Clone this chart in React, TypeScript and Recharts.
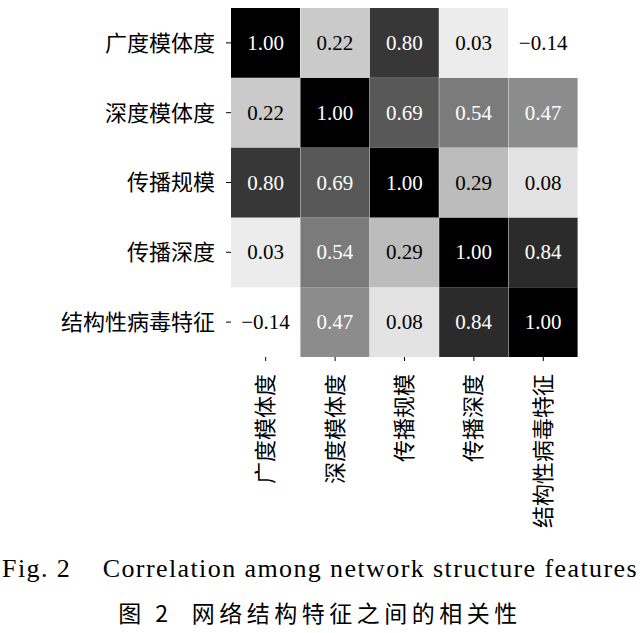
import React from 'react';
import { BarChart, Bar, XAxis, YAxis, Cell, LabelList } from 'recharts';

const FEATURES = ['广度模体度', '深度模体度', '传播规模', '传播深度', '结构性病毒特征'];

// correlation matrix, row by row (top to bottom)
const ROW_0 = [1.0, 0.22, 0.8, 0.03, -0.14];
const ROW_1 = [0.22, 1.0, 0.69, 0.54, 0.47];
const ROW_2 = [0.8, 0.69, 1.0, 0.29, 0.08];
const ROW_3 = [0.03, 0.54, 0.29, 1.0, 0.84];
const ROW_4 = [-0.14, 0.47, 0.08, 0.84, 1.0];
const MATRIX = [ROW_0, ROW_1, ROW_2, ROW_3, ROW_4];

const Y_TICKS = [0.5, 1.5, 2.5, 3.5, 4.5];

// matplotlib "Greys"
const GREYS = [255, 240, 217, 189, 150, 115, 82, 37, 0];
const VMIN = Math.min(...MATRIX.flat());
const VMAX = Math.max(...MATRIX.flat());

const normT = (v: number) => (v - VMIN) / (VMAX - VMIN);
const greyOf = (v: number) => {
  const t = normT(v) * (GREYS.length - 1);
  const i = Math.min(Math.floor(t), GREYS.length - 2);
  const g = Math.round(GREYS[i] + (GREYS[i + 1] - GREYS[i]) * (t - i));
  return `rgb(${g},${g},${g})`;
};
const fmt = (v: number) => (v < 0 ? '\u2212' + Math.abs(v).toFixed(2) : v.toFixed(2));

// one stacked segment per row; s0 is the bottom row
const N = FEATURES.length;
const data = FEATURES.map((name) => {
  const row: Record<string, any> = { name };
  for (let k = 0; k < N; k++) row[`s${k}`] = 1;
  return row;
});

const SERIF = "'Liberation Serif', 'Noto Sans CJK SC', serif";

const XTick = (props: any) => {
  const { x, y, payload } = props;
  const ty = y + 11;
  return (
    <text
      x={x}
      y={ty}
      transform={`rotate(-90, ${x}, ${ty})`}
      textAnchor="end"
      dominantBaseline="central"
      fontSize={22}
      fontFamily={SERIF}
      fill="#000"
    >
      {payload.value}
    </text>
  );
};

const cellLabel = (rowIdx: number) => (props: any) => {
  const { x, y, width, height, index } = props;
  const v = MATRIX[rowIdx][index];
  return (
    <text
      x={x + width / 2}
      y={y + height / 2}
      textAnchor="middle"
      dominantBaseline="central"
      fontSize={21}
      fontFamily={SERIF}
      fill={normT(v) > 0.45 ? '#fff' : '#000'}
    >
      {fmt(v)}
    </text>
  );
};

export default function App() {
  const stacks = Array.from({ length: N }, (_, k) => N - 1 - k);
  return (
    <div style={{ position: 'absolute', left: 0, top: 0, width: 640, height: 633, background: '#fff' }}>
      <BarChart
        width={640}
        height={540}
        data={data}
        margin={{ top: 8, right: 62, left: 0, bottom: 0 }}
        barCategoryGap={0}
      >
        <XAxis
          dataKey="name"
          height={183}
          axisLine={false}
          tickLine={{ stroke: '#000' }}
          tickSize={4}
          interval={0}
          tick={<XTick />}
        />
        <YAxis
          type="number"
          domain={[0, N]}
          ticks={Y_TICKS}
          width={231}
          axisLine={false}
          tickLine={{ stroke: '#000' }}
          tickSize={5}
          tickMargin={11}
          tickFormatter={(v: number) => FEATURES[N - 1 - Math.floor(v)]}
          tick={{ fontSize: 22, fontFamily: SERIF, fill: '#000' }}
        />
        {stacks.map((rowIdx, k) => (
          <Bar key={k} dataKey={`s${k}`} stackId="m" isAnimationActive={false}>
            {MATRIX[rowIdx].map((v, j) => (
              <Cell key={j} fill={greyOf(v)} />
            ))}
            <LabelList content={cellLabel(rowIdx)} />
          </Bar>
        ))}
      </BarChart>
      <div
        style={{
          position: 'absolute', left: 0, width: 640, top: 556, textAlign: 'center',
          fontFamily: SERIF, fontSize: 26, lineHeight: '26px', letterSpacing: 1.4, whiteSpace: 'pre',
        }}
      >
        {'Fig. 2    Correlation among network structure features'}
      </div>
      <div
        style={{
          position: 'absolute', left: 0, width: 640, top: 601, textAlign: 'center',
          fontFamily: "'Noto Sans CJK SC', sans-serif", fontSize: 23, lineHeight: '23px', letterSpacing: 4.5, whiteSpace: 'pre',
        }}
      >
        {'图 2  网络结构特征之间的相关性'}
      </div>
    </div>
  );
}
